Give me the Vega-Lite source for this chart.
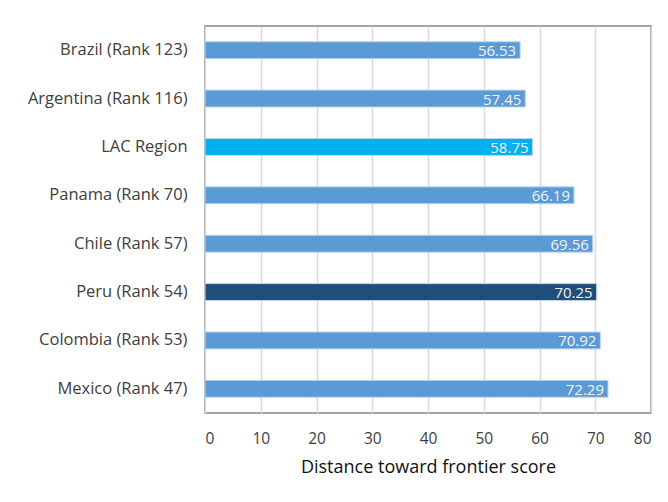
{
  "$schema": "https://vega.github.io/schema/vega-lite/v6.json",
  "width": 446,
  "height": 387,
  "autosize": {"type": "none"},
  "padding": {"left": 205, "top": 26, "right": 17, "bottom": 89},
  "background": "white",
  "config": {
    "font": "Open Sans",
    "view": {"stroke": "#868686", "strokeWidth": 1.5},
    "axis": {"labelFont": "Open Sans", "titleFont": "Open Sans"}
  },
  "data": {
    "values": [
      {"country": "Brazil (Rank 123)", "score": 56.53, "group": "other"},
      {"country": "Argentina (Rank 116)", "score": 57.45, "group": "other"},
      {"country": "LAC Region", "score": 58.75, "group": "lac"},
      {"country": "Panama (Rank 70)", "score": 66.19, "group": "other"},
      {"country": "Chile (Rank 57)", "score": 69.56, "group": "other"},
      {"country": "Peru (Rank 54)", "score": 70.25, "group": "peru"},
      {"country": "Colombia (Rank 53)", "score": 70.92, "group": "other"},
      {"country": "Mexico (Rank 47)", "score": 72.29, "group": "other"}
    ]
  },
  "encoding": {
    "y": {
      "field": "country",
      "type": "nominal",
      "sort": null,
      "scale": {"paddingInner": 0.65, "paddingOuter": 0.325},
      "axis": {
        "title": null,
        "domain": false,
        "ticks": false,
        "labelPadding": 18,
        "labelFontSize": 16.5,
        "labelColor": "#404040",
        "labelLimit": 300
      }
    },
    "x": {
      "field": "score",
      "type": "quantitative",
      "scale": {"domain": [0, 80], "nice": false},
      "axis": {
        "values": [0, 10, 20, 30, 40, 50, 60, 70, 80],
        "title": "Distance toward frontier score",
        "titleFontSize": 18,
        "titleFontWeight": "normal",
        "titleColor": "#111111",
        "titlePadding": 12,
        "labelFontSize": 15.5,
        "labelColor": "#404040",
        "labelPadding": 18,
        "domain": false,
        "ticks": false,
        "grid": true,
        "gridColor": "#D9D9D9",
        "gridWidth": 1.5
      }
    }
  },
  "layer": [
    {
      "mark": {"type": "bar", "stroke": "#BDD7EE", "strokeWidth": 1},
      "encoding": {
        "color": {
          "field": "group",
          "type": "nominal",
          "scale": {"domain": ["other", "lac", "peru"], "range": ["#5B9BD5", "#00B0F0", "#1F4E79"]},
          "legend": null
        }
      }
    },
    {
      "mark": {"type": "text", "align": "right", "baseline": "middle", "dx": -4, "dy": 1, "fontSize": 15, "color": "#F2F2F2"},
      "encoding": {
        "text": {"field": "score", "type": "quantitative", "format": ".2f"}
      }
    }
  ]
}
